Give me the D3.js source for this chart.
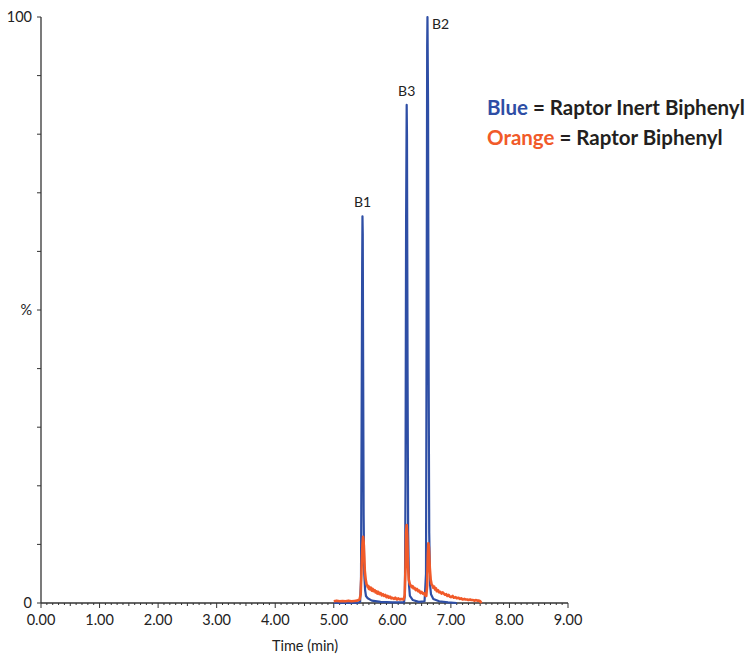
<!DOCTYPE html>
<html><head><meta charset="utf-8">
<script src="https://cdn.jsdelivr.net/npm/d3@7"></script>
<style>body{margin:0;background:#fff}svg{display:block}text{font-family:Lato,"Open Sans",sans-serif}</style>
</head><body><svg id="c" width="749" height="655"></svg>
<script>
// ---- data ----
const blueTime = [5.00,5.40,5.45,5.465,5.475,5.485,5.49,5.495,5.50,5.51,5.52,5.535,5.55,5.58,5.65,5.80,6.00,6.20,6.215,6.225,6.235,6.245,6.25,6.26,6.27,6.285,6.30,6.35,6.45,6.55,6.575,6.585,6.595,6.60,6.61,6.62,6.63,6.645,6.66,6.70,6.80,6.95,7.10];
const blueVal  = [0.0,0.0,0.2,4,30,58,66,63,45,15,5,2.2,1.2,0.8,0.4,0.2,0.1,0.1,1.5,20,65,85,80,40,12,3,1.2,0.5,0.2,0.3,5,45,95,100,85,40,12,3,1.5,0.7,0.3,0.1,0.0];
const orangeTime = [5.00,5.05,5.10,5.15,5.20,5.25,5.30,5.35,5.40,5.44,5.46,5.475,5.49,5.50,5.51,5.52,5.53,5.545,5.56,5.57,5.58,5.59,5.60,5.61,5.62,5.635,5.65,5.665,5.68,5.70,5.715,5.73,5.745,5.76,5.78,5.80,5.82,5.84,5.86,5.88,5.90,5.92,5.94,5.96,5.98,6.00,6.03,6.05,6.08,6.10,6.13,6.15,6.19,6.21,6.225,6.235,6.245,6.255,6.265,6.28,6.30,6.315,6.33,6.345,6.36,6.38,6.40,6.42,6.44,6.46,6.48,6.50,6.52,6.54,6.56,6.58,6.595,6.605,6.615,6.625,6.64,6.655,6.67,6.685,6.70,6.715,6.73,6.745,6.76,6.78,6.80,6.82,6.84,6.86,6.88,6.90,6.92,6.94,6.96,6.98,7.00,7.03,7.05,7.08,7.10,7.13,7.15,7.18,7.20,7.23,7.25,7.28,7.30,7.33,7.35,7.38,7.40,7.43,7.45,7.48,7.50,7.52];
const orangeVal  = [0.3,0.4,0.3,0.35,0.3,0.4,0.3,0.35,0.4,0.6,1.5,6,10,11.3,10.5,8,5.5,4,3.2,3.0,2.7,2.9,2.4,2.7,2.3,2.6,2.1,2.4,2.0,2.2,1.8,2.0,1.6,1.9,1.5,1.7,1.3,1.5,1.2,1.4,1.0,1.2,0.9,1.1,0.8,0.9,0.7,0.9,0.6,0.8,0.6,0.7,0.6,1.2,6,12,13.3,11.5,7,4,3.2,3.0,2.7,2.9,2.5,2.6,2.2,2.4,2.0,2.1,1.7,1.9,1.6,1.7,1.3,1.2,3,8,10.2,9.5,6,4,3.2,3.0,2.6,2.8,2.3,2.5,2.0,2.2,1.8,1.9,1.6,1.8,1.6,1.4,1.5,1.2,1.4,1.1,1.0,1.2,0.9,1.0,0.8,0.9,0.7,0.8,0.6,0.7,0.6,0.6,0.5,0.6,0.5,0.5,0.4,0.5,0.4,0.4,0.3,0.0];
const peakLabels = ["B1","B3","B2"];
const peakTimes  = [5.49,6.245,6.60];
const peakHeights= [66,85,100];
const xTickValues = [0,1,2,3,4,5,6,7,8,9];
const yTickLabels = [{v:100,t:"100"},{v:50,t:"%"},{v:0,t:"0"}];
const legendItems = [{key:"Blue",rest:" = Raptor Inert Biphenyl",color:"#2e4ea5"},{key:"Orange",rest:" = Raptor Biphenyl",color:"#f15a29"}];

// ---- chart ----
const svg = d3.select("#c");
const x = d3.scaleLinear().domain([0,9]).range([41,568]);
const y = d3.scaleLinear().domain([0,100]).range([603,17]);
const axisColor = "#333";

// y axis
svg.append("line").attr("x1",41).attr("x2",41).attr("y1",y(100)).attr("y2",y(0)).attr("stroke",axisColor).attr("stroke-width",1.3);
svg.selectAll(".ytick").data(d3.range(0,101,10)).join("line")
  .attr("x1",37).attr("x2",41).attr("y1",d=>y(d)).attr("y2",d=>y(d)).attr("stroke",axisColor).attr("stroke-width",1);
svg.selectAll(".ylab").data(yTickLabels).join("text")
  .attr("x",32).attr("y",d=>y(d.v)).attr("dy","0.35em").attr("text-anchor","end")
  .attr("font-size",14.5).attr("fill","#222").text(d=>d.t);

// x axis
svg.append("line").attr("x1",x(0)).attr("x2",x(9)).attr("y1",603).attr("y2",603).attr("stroke",axisColor).attr("stroke-width",1.3);
const minor = d3.range(0,91).map(i=>i/10);
svg.selectAll(".xminor").data(minor).join("line")
  .attr("x1",d=>x(d)).attr("x2",d=>x(d)).attr("y1",603)
  .attr("y2",(d,i)=> i%10===0 ? 608 : (i%5===0 ? 606 : 605))
  .attr("stroke",axisColor).attr("stroke-width",1);
svg.selectAll(".xlab").data(xTickValues).join("text")
  .attr("x",d=>x(d)).attr("y",620).attr("dy","0.35em").attr("text-anchor","middle")
  .attr("font-size",14.5).attr("fill","#222").text(d=>d.toFixed(2));
svg.append("text").attr("x",305).attr("y",646).attr("text-anchor","middle").attr("dy","0.35em")
  .attr("font-size",14.5).attr("fill","#222").text("Time (min)");

// traces
const line = d3.line().x(d=>x(d[0])).y(d=>y(d[1]));
svg.append("path").datum(blueTime.map((t,i)=>[t,blueVal[i]]))
  .attr("d",line).attr("fill","none").attr("stroke","#2e4ea5").attr("stroke-width",2.2).attr("stroke-linejoin","round");
svg.append("path").datum(orangeTime.map((t,i)=>[t,orangeVal[i]]))
  .attr("d",line).attr("fill","none").attr("stroke","#f15a29").attr("stroke-width",2.6).attr("stroke-linejoin","round");

// peak labels
svg.selectAll(".plab").data(peakLabels).join("text")
  .attr("x",(d,i)=> i===2 ? x(peakTimes[i])+13 : x(peakTimes[i]))
  .attr("y",(d,i)=> i===2 ? y(peakHeights[i])+7 : y(peakHeights[i])-14)
  .attr("dy","0.35em").attr("text-anchor","middle")
  .attr("font-size",14).attr("fill","#222").text(d=>d);

// legend
legendItems.forEach((L,i)=>{
  const t = svg.append("text").attr("x",487).attr("y",108+30*i).attr("dy","0.35em")
    .attr("font-size",20.5).attr("font-weight","bold");
  t.append("tspan").attr("fill",L.color).text(L.key);
  t.append("tspan").attr("fill","#231f20").text(L.rest);
});
</script></body></html>
